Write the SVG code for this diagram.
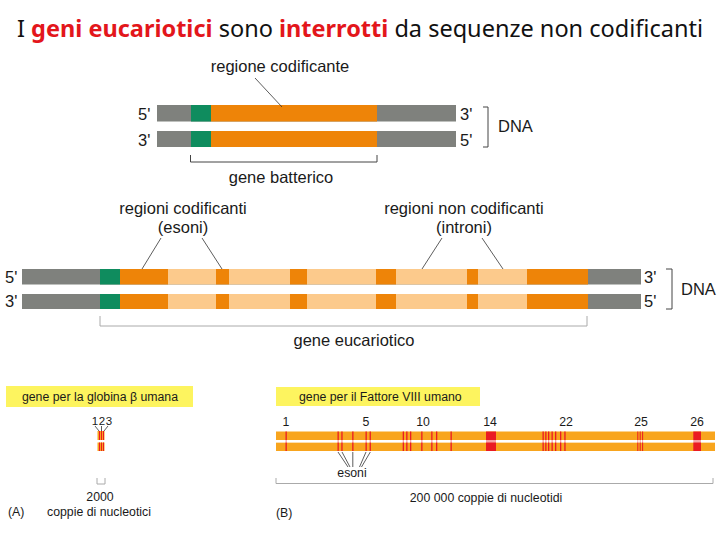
<svg xmlns="http://www.w3.org/2000/svg" width="720" height="540" viewBox="0 0 720 540">
<style>
.t{font-family:"Liberation Sans",Arial,sans-serif;fill:#1a1a1a}
.l{font-size:16.5px}
.s{font-size:12.3px}
.grey{fill:#7f817d}
.green{fill:#0f8c5e}
.or{fill:#ee8408}
.lt{fill:#fcca8c}
.bar{fill:#f8a51e}
.red{fill:#ea1b23}
.lead{stroke:#333;stroke-width:0.8;fill:none}
.brk{stroke:#444;stroke-width:1;fill:none}
.brkl{stroke:#aaa;stroke-width:1;fill:none}
.ybox{fill:#fdf45f}
.hl{fill:#e3161b;font-weight:bold}
</style>
<rect width="720" height="540" fill="#fff"/>
<g id="title">
<text x="17" y="37" font-family="'Noto Sans','Liberation Sans',sans-serif" font-size="23" textLength="686" lengthAdjust="spacingAndGlyphs" fill="#111">I <tspan class="hl">geni eucariotici</tspan> sono <tspan class="hl">interrotti</tspan> da sequenze non codificanti</text>
</g>

<g id="bacterial-dna">
<rect class="grey" x="157" y="105" width="299" height="16.5"/>
<rect class="green" x="191" y="105" width="20" height="16.5"/>
<rect class="or" x="211" y="105" width="166" height="16.5"/>
<rect class="grey" x="157" y="131" width="299" height="16"/>
<rect class="green" x="191" y="131" width="20" height="16"/>
<rect class="or" x="211" y="131" width="166" height="16"/>
<text class="t l" x="138" y="120">5'</text>
<text class="t l" x="138" y="146">3'</text>
<text class="t l" x="460" y="120">3'</text>
<text class="t l" x="460" y="146">5'</text>
<text class="t l" x="498" y="132">DNA</text>
</g>
<g id="label-regione">
<text class="t l" x="280" y="72" text-anchor="middle">regione codificante</text>
</g>
<g id="label-gene-batterico">
<text class="t l" x="281" y="183" text-anchor="middle">gene batterico</text>
</g>

<g id="eukaryotic-dna">
<rect class="grey" x="22" y="269" width="619" height="15.5"/>
<rect class="green" x="100" y="269" width="20" height="15.5"/>
<rect class="or" x="120" y="269" width="48" height="15.5"/>
<rect class="lt" x="168" y="269" width="48" height="15.5"/>
<rect class="or" x="216" y="269" width="13" height="15.5"/>
<rect class="lt" x="229" y="269" width="61" height="15.5"/>
<rect class="or" x="290" y="269" width="17" height="15.5"/>
<rect class="lt" x="307" y="269" width="69" height="15.5"/>
<rect class="or" x="376" y="269" width="20" height="15.5"/>
<rect class="lt" x="396" y="269" width="71" height="15.5"/>
<rect class="or" x="467" y="269" width="11" height="15.5"/>
<rect class="lt" x="478" y="269" width="49" height="15.5"/>
<rect class="or" x="527" y="269" width="61" height="15.5"/>
<rect class="grey" x="22" y="294" width="619" height="15"/>
<rect class="green" x="100" y="294" width="20" height="15"/>
<rect class="or" x="120" y="294" width="48" height="15"/>
<rect class="lt" x="168" y="294" width="48" height="15"/>
<rect class="or" x="216" y="294" width="13" height="15"/>
<rect class="lt" x="229" y="294" width="61" height="15"/>
<rect class="or" x="290" y="294" width="17" height="15"/>
<rect class="lt" x="307" y="294" width="69" height="15"/>
<rect class="or" x="376" y="294" width="20" height="15"/>
<rect class="lt" x="396" y="294" width="71" height="15"/>
<rect class="or" x="467" y="294" width="11" height="15"/>
<rect class="lt" x="478" y="294" width="49" height="15"/>
<rect class="or" x="527" y="294" width="61" height="15"/>
<text class="t l" x="5" y="283">5'</text>
<text class="t l" x="5" y="307">3'</text>
<text class="t l" x="644" y="283">3'</text>
<text class="t l" x="644" y="307">5'</text>
<text class="t l" x="681" y="295">DNA</text>
</g>
<g id="label-esoni">
<text class="t l" x="183" y="214" text-anchor="middle">regioni codificanti</text>
<text class="t l" x="183" y="233" text-anchor="middle">(esoni)</text>
</g>
<g id="label-introni">
<text class="t l" x="464" y="214" text-anchor="middle">regioni non codificanti</text>
<text class="t l" x="464" y="233" text-anchor="middle">(introni)</text>
</g>
<g id="label-gene-eucariotico">
<text class="t l" x="354" y="346" text-anchor="middle">gene eucariotico</text>
</g>

<g id="globin-gene">
<rect class="ybox" x="6" y="386" width="187" height="21"/>
<text class="t s" x="100" y="400.5" text-anchor="middle">gene per la globina β umana</text>
<rect class="bar" x="97.5" y="431" width="7" height="9"/>
<rect class="bar" x="97.5" y="442.5" width="7" height="8.5"/>
<rect class="red" x="99" y="431" width="1" height="9"/>
<rect class="red" x="101" y="431" width="1" height="9"/>
<rect class="red" x="103" y="431" width="1" height="9"/>
<rect class="red" x="99" y="442.5" width="1" height="8.5"/>
<rect class="red" x="101" y="442.5" width="1" height="8.5"/>
<rect class="red" x="103" y="442.5" width="1" height="8.5"/>
<text class="t" font-size="11.5" x="95" y="425" text-anchor="middle">1</text>
<text class="t" font-size="11.5" x="102" y="425" text-anchor="middle">2</text>
<text class="t" font-size="11.5" x="109" y="425" text-anchor="middle">3</text>
<text class="t s" x="100" y="501" text-anchor="middle">2000</text>
<text class="t s" x="8" y="516">(A)</text>
<text class="t s" x="47" y="516">coppie di nucleotici</text>
</g>

<g id="factor8-gene">
<rect class="ybox" x="276" y="387" width="204" height="19"/>
<text class="t s" x="299" y="400.5">gene per il Fattore VIII umano</text>
<rect class="bar" x="276" y="431.5" width="439" height="8.5"/>
<rect class="bar" x="276" y="442.5" width="439" height="8.5"/>
<g class="red">
<rect x="285.5" y="431.5" width="1.3" height="19.5"/>
<rect x="337.5" y="431.5" width="1.3" height="19.5"/>
<rect x="341.3" y="431.5" width="1.3" height="19.5"/>
<rect x="352.2" y="431.5" width="1.3" height="19.5"/>
<rect x="365.5" y="431.5" width="1.3" height="19.5"/>
<rect x="369.6" y="431.5" width="1.3" height="19.5"/>
<rect x="402.7" y="431.5" width="1.3" height="19.5"/>
<rect x="406.2" y="431.5" width="1.3" height="19.5"/>
<rect x="410" y="431.5" width="1.3" height="19.5"/>
<rect x="421.2" y="431.5" width="1.3" height="19.5"/>
<rect x="431.2" y="431.5" width="1.3" height="19.5"/>
<rect x="436" y="431.5" width="1.3" height="19.5"/>
<rect x="450.5" y="431.5" width="1.3" height="19.5"/>
<rect x="486" y="431.5" width="10" height="19.5"/>
<rect x="542.5" y="431.5" width="1.3" height="19.5"/>
<rect x="545.2" y="431.5" width="1.3" height="19.5"/>
<rect x="548" y="431.5" width="1.3" height="19.5"/>
<rect x="551.5" y="431.5" width="1.3" height="19.5"/>
<rect x="555" y="431.5" width="1.3" height="19.5"/>
<rect x="560" y="431.5" width="1.3" height="19.5"/>
<rect x="564.3" y="431.5" width="1.3" height="19.5"/>
<rect x="637.3" y="431.5" width="1" height="19.5"/>
<rect x="639.7" y="431.5" width="1" height="19.5"/>
<rect x="642.1" y="431.5" width="1" height="19.5"/>
<rect x="693.3" y="431.5" width="7.7" height="19.5"/>
</g>
<rect x="276" y="440" width="439" height="2.5" fill="#fff" opacity="0.6"/>
<text class="t s" x="286" y="426" text-anchor="middle">1</text>
<text class="t s" x="366" y="426" text-anchor="middle">5</text>
<text class="t s" x="423" y="426" text-anchor="middle">10</text>
<text class="t s" x="490" y="426" text-anchor="middle">14</text>
<text class="t s" x="566" y="426" text-anchor="middle">22</text>
<text class="t s" x="641" y="426" text-anchor="middle">25</text>
<text class="t s" x="697" y="426" text-anchor="middle">26</text>
<text class="t s" x="352" y="477" text-anchor="middle">esoni</text>
<text class="t s" x="486" y="502" text-anchor="middle">200 000 coppie di nucleotidi</text>
<text class="t s" x="276" y="517">(B)</text>
</g>

<g id="connectors">
<line class="lead" x1="255" y1="78" x2="282" y2="107"/>
<path class="brk" d="M483 107H488V147H483"/>
<path class="brk" d="M190.5 155V162H377V155"/>
<line class="lead" x1="161" y1="238" x2="142" y2="269"/>
<line class="lead" x1="202" y1="238" x2="222" y2="269"/>
<line class="lead" x1="442" y1="238" x2="422" y2="269"/>
<line class="lead" x1="482" y1="238" x2="503" y2="269"/>
<path class="brk" d="M666 269H672V309H666"/>
<path class="brkl" d="M100 316V326H587V316"/>
<line class="lead" x1="95" y1="426" x2="99" y2="431"/>
<line class="lead" x1="101.5" y1="426" x2="101.5" y2="431"/>
<line class="lead" x1="108" y1="426" x2="104" y2="431"/>
<path class="brkl" d="M97 478V484H105V478"/>
<line class="lead" x1="338" y1="452" x2="348" y2="467"/>
<line class="lead" x1="342" y1="452" x2="350" y2="467"/>
<line class="lead" x1="352.8" y1="452" x2="352.8" y2="467"/>
<line class="lead" x1="366" y1="452" x2="359.5" y2="467"/>
<line class="lead" x1="370.3" y1="452" x2="361.5" y2="467"/>
<path class="brkl" d="M276 478V483.5H713V478"/>
</g>
</svg>
